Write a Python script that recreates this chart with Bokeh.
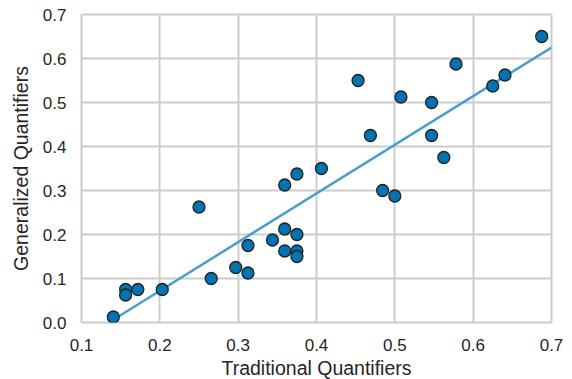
import numpy as np
from bokeh.plotting import figure
from bokeh.models import FixedTicker, Range1d, ColumnDataSource
from bokeh.embed import file_html
from bokeh.resources import INLINE

# Data
traditional = [0.1406, 0.1563, 0.1563, 0.1719, 0.2031, 0.2500, 0.2656, 0.2969,
               0.3125, 0.3125, 0.3438, 0.3594, 0.3594, 0.3594, 0.3750, 0.3750,
               0.3750, 0.3750, 0.4063, 0.4531, 0.4688, 0.4844, 0.5000, 0.5078,
               0.5469, 0.5469, 0.5625, 0.5781, 0.6250, 0.6406, 0.6875]
generalized = [0.0125, 0.0750, 0.0625, 0.0750, 0.0750, 0.2625, 0.1000, 0.1250,
               0.1750, 0.1125, 0.1875, 0.2125, 0.1625, 0.3125, 0.3375, 0.2000,
               0.1625, 0.1500, 0.3500, 0.5500, 0.4250, 0.3000, 0.2875, 0.5125,
               0.5000, 0.4250, 0.3750, 0.5875, 0.5375, 0.5625, 0.6500]
x_ticks = [0.1, 0.2, 0.3, 0.4, 0.5, 0.6, 0.7]
y_ticks = [0.0, 0.1, 0.2, 0.3, 0.4, 0.5, 0.6, 0.7]

# Least-squares fit line (as in seaborn regplot)
slope, intercept = np.polyfit(traditional, generalized, 1)
fit_x = [min(traditional), x_ticks[-1]]
fit_y = [slope * v + intercept for v in fit_x]

TEXT = "#262626"
GRID = "#cccccc"
FONT = "Liberation Sans"

p = figure(width=572, height=379, output_backend="svg", toolbar_location=None,
           x_range=Range1d(0.1, 0.7), y_range=Range1d(0.0, 0.7),
           min_border_left=81, min_border_right=21, min_border_top=14,
           min_border_bottom=10)
p.frame_width = 470
p.frame_height = 308

p.line(fit_x, fit_y, line_color="#4a9ecf", line_width=2.5)
src = ColumnDataSource(dict(x=traditional, y=generalized))
p.scatter("x", "y", source=src, size=12, fill_color="#0173b2",
          line_color="#222222", line_width=1.3)

p.outline_line_color = GRID
p.outline_line_width = 2
p.background_fill_color = "white"
p.border_fill_color = "white"

for g in (p.xgrid, p.ygrid):
    g.grid_line_color = GRID
    g.grid_line_width = 2
p.xgrid.ticker = FixedTicker(ticks=x_ticks)
p.ygrid.ticker = FixedTicker(ticks=y_ticks)

p.xaxis.ticker = FixedTicker(ticks=x_ticks)
p.yaxis.ticker = FixedTicker(ticks=y_ticks)
p.xaxis.major_label_overrides = {t: f"{t:.1f}" for t in x_ticks}
p.yaxis.major_label_overrides = {t: f"{t:.1f}" for t in y_ticks}

p.xaxis.axis_label = "Traditional Quantifiers"
p.yaxis.axis_label = "Generalized Quantifiers"

for ax in (p.xaxis[0], p.yaxis[0]):
    ax.axis_line_color = None
    ax.major_tick_line_color = None
    ax.minor_tick_line_color = None
    ax.major_tick_out = 0
    ax.major_tick_in = 0
    ax.minor_tick_out = 0
    ax.major_label_text_font = FONT
    ax.major_label_text_font_size = "17px"
    ax.major_label_text_color = TEXT
    ax.axis_label_text_font = FONT
    ax.axis_label_text_font_size = "19.5px"
    ax.axis_label_text_font_style = "normal"
    ax.axis_label_text_color = TEXT

p.xaxis.major_label_standoff = 16
p.xaxis.axis_label_standoff = 3
p.yaxis.major_label_standoff = 15
p.yaxis.axis_label_standoff = 8

open("out.html", "w").write(file_html(p, INLINE))
